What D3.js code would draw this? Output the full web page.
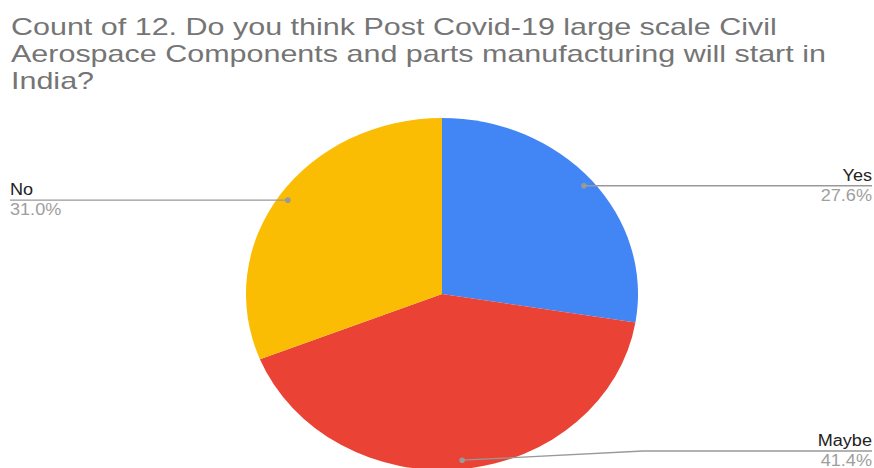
<!DOCTYPE html>
<html>
<head>
<meta charset="utf-8">
<script src="https://cdn.jsdelivr.net/npm/d3@7"></script>
<style>
  body { margin: 0; background: #fff; }
  svg { display: block; }
</style>
</head>
<body>
<div id="viz-container"></div>
<script>
let width = 874;
let height = 468;

// data
let titleLines = [
  "Count of 12. Do you think Post Covid-19 large scale Civil",
  "Aerospace Components and parts manufacturing will start in",
  "India?"
];
let categories = ["Yes", "Maybe", "No"];
let counts = [8, 12, 9];
let colors = ["#4285f4", "#ea4335", "#fbbc04"];

let cx = 442, cy = 294;
let rx = 196, ry = 176;

let viz = d3.select('#viz-container')
  .append('svg')
  .attr('width', width)
  .attr('height', height);

// stretch text horizontally to match the reference (it is wider than tall)
function widen(k) {
  return function(sel) {
    sel.each(function() {
      let w = this.getComputedTextLength();
      d3.select(this)
        .attr('textLength', w * k)
        .attr('lengthAdjust', 'spacingAndGlyphs');
    });
  };
}

viz.selectAll('.title').data(titleLines).enter()
  .append('text')
  .attr('class', 'title')
  .attr('x', 11)
  .attr('y', (d, i) => 35 + i * 27)
  .attr('font-family', 'Liberation Sans, Arial, sans-serif')
  .attr('font-size', 24)
  .attr('fill', '#757575')
  .text(d => d)
  .call(widen(1.27));

let total = d3.sum(counts);
let pieData = d3.pie().sort(null).value(d => d)(counts);

let arc = d3.arc().innerRadius(0).outerRadius(ry);

let pieG = viz.append('g')
  .attr('transform', 'translate(' + cx + ',' + cy + ') scale(' + (rx / ry) + ',1)');

pieG.selectAll('.slice').data(pieData).enter()
  .append('path')
  .attr('class', 'slice')
  .attr('d', arc)
  .attr('fill', (d, i) => colors[i]);

// labels
let bottomLimit = 451;
pieData.forEach(function(d, i) {
  let a = (d.startAngle + d.endAngle) / 2;
  let px = cx + Math.sin(a) * rx * 0.95;
  let py = cy - Math.cos(a) * ry * 0.95;
  let right = Math.sin(a) >= 0;
  let ly = Math.min(py, bottomLimit);
  let endX = right ? 872 : 10;
  let pts;
  if (ly < py - 1) {
    let elbowX = px + (right ? 181 : -181);
    pts = [[px, py], [elbowX, ly], [endX, ly]];
  } else {
    pts = [[px, py], [endX, py]];
    ly = py;
  }
  viz.append('path')
    .attr('d', d3.line()(pts))
    .attr('fill', 'none')
    .attr('stroke', '#999')
    .attr('stroke-width', 1.3);
  viz.append('circle')
    .attr('cx', px).attr('cy', py).attr('r', 2.8)
    .attr('fill', '#999');
  viz.append('text')
    .attr('x', endX).attr('y', ly - 5)
    .attr('text-anchor', right ? 'end' : 'start')
    .attr('font-family', 'Liberation Sans, Arial, sans-serif')
    .attr('font-size', 16)
    .attr('fill', '#222')
    .text(categories[i])
    .call(widen(1.13));
  viz.append('text')
    .attr('x', endX).attr('y', ly + 15)
    .attr('text-anchor', right ? 'end' : 'start')
    .attr('font-family', 'Liberation Sans, Arial, sans-serif')
    .attr('font-size', 16)
    .attr('fill', '#9e9e9e')
    .text((counts[i] / total * 100).toFixed(1) + '%')
    .call(widen(1.13));
});
</script>
</body>
</html>
